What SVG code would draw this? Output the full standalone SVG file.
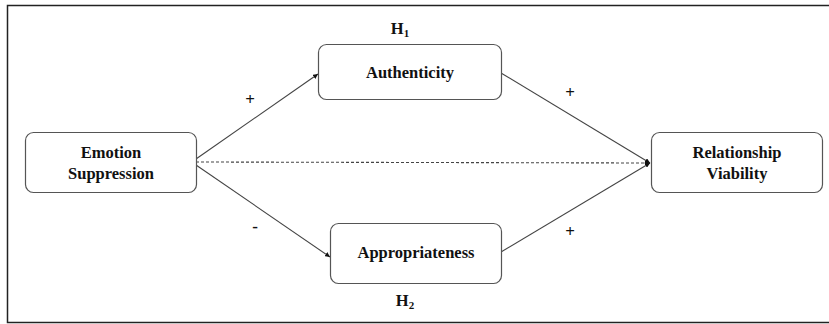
<svg xmlns="http://www.w3.org/2000/svg" width="829" height="324" viewBox="0 0 829 324">
<style>
.box{fill:#fff;stroke:#555;stroke-width:1.2}
text{font-family:'Liberation Serif','DejaVu Serif',serif;fill:#111;text-anchor:middle}
.t{font-weight:bold;font-size:16.5px}
.s{font-weight:bold;font-size:17px}
.c{stroke:#444;stroke-width:1.1;fill:none}
.d{stroke:#444;stroke-width:1.1;fill:none;stroke-dasharray:3 2}
</style>
<defs>
<marker id="ah" viewBox="0 0 10 10" refX="10" refY="5" markerWidth="5" markerHeight="5" markerUnits="userSpaceOnUse" orient="auto">
<path d="M0,0 L10,5 L0,10 z" fill="#111"/>
</marker>
</defs>
<rect width="829" height="324" fill="#fff"/>
<path d="M830,5.5 H7.5 V322.5 H830" fill="none" stroke="#222" stroke-width="1.5"/>
<g id="connectors">
<line class="c" x1="196" y1="159" x2="318" y2="74" marker-end="url(#ah)"/>
<line class="c" x1="196" y1="165" x2="330" y2="257" marker-end="url(#ah)"/>
<line class="c" x1="501" y1="73" x2="650" y2="163" marker-end="url(#ah)"/>
<line class="c" x1="501" y1="252" x2="650" y2="163" marker-end="url(#ah)"/>
<line class="d" x1="196" y1="162" x2="650" y2="163" marker-end="url(#ah)"/>
<text class="s" x="250" y="105">+</text>
<text class="s" x="570" y="98">+</text>
<text class="s" x="255" y="232">-</text>
<text class="s" x="570" y="237">+</text>
</g>
<g id="emotion">
<rect class="box" x="25.5" y="132.5" width="171" height="60" rx="8"/>
<text class="t" x="111" y="158">Emotion</text>
<text class="t" x="111" y="179">Suppression</text>
</g>
<g id="authenticity">
<rect class="box" x="318.5" y="44.5" width="183" height="55" rx="8"/>
<text class="t" x="410" y="78">Authenticity</text>
<text class="t" x="400" y="34">H<tspan font-size="11" dy="3">1</tspan></text>
</g>
<g id="appropriateness">
<rect class="box" x="330.5" y="223.5" width="171" height="60" rx="8"/>
<text class="t" x="416" y="258">Appropriateness</text>
<text class="t" x="405" y="306">H<tspan font-size="11" dy="3">2</tspan></text>
</g>
<g id="viability">
<rect class="box" x="651.5" y="132.5" width="171" height="60" rx="8"/>
<text class="t" x="737" y="158">Relationship</text>
<text class="t" x="737" y="179">Viability</text>
</g>
</svg>
